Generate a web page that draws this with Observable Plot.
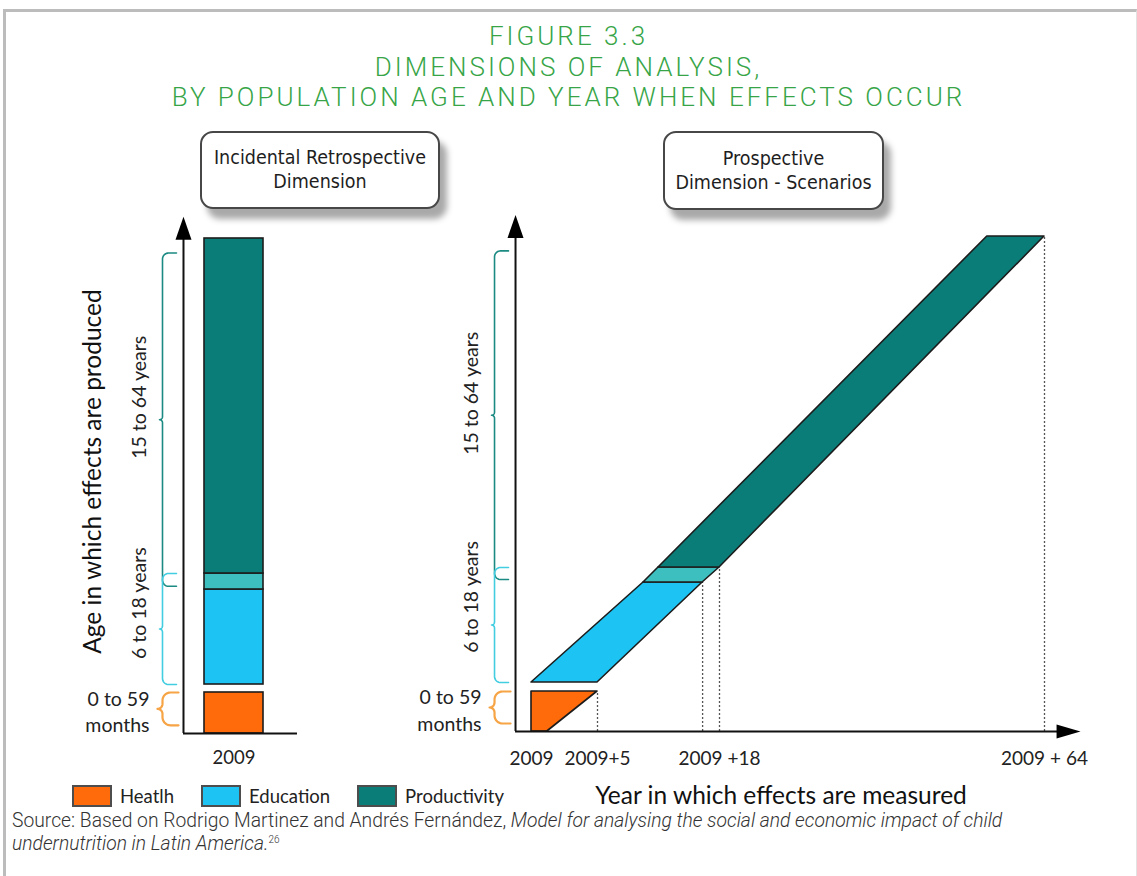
<!DOCTYPE html>
<html>
<head>
<meta charset="utf-8">
<script src="https://cdn.jsdelivr.net/npm/d3@7"></script>
<script src="https://cdn.jsdelivr.net/npm/@observablehq/plot@0.6"></script>
<style>
  body { margin: 0; background: #fff; }
  #page { position: relative; width: 1137px; height: 876px; overflow: hidden; font-family: Lato, "Open Sans", sans-serif; }
  #frame { position: absolute; left: 3px; top: 9px; right: 0; bottom: -20px; border-top: 3px solid #bcbcbc; border-left: 3px solid #bcbcbc; border-right: 1px solid #e2e2e2; }
  .title { position: absolute; left: 0; width: 1137px; text-align: center; color: #37a547; font-family: Roboto, sans-serif; font-weight: 300; font-size: 26px; letter-spacing: 3px; line-height: 31px; white-space: nowrap; }
  .dimbox { position: absolute; box-sizing: border-box; border: 2px solid #474747; border-radius: 13px; background: #fff; box-shadow: 7px 10px 6px #a9a9a9; display: flex; flex-direction: column; justify-content: center; align-items: center; font-family: "DejaVu Sans Condensed", "DejaVu Sans", sans-serif; font-stretch: condensed; font-size: 19.5px; line-height: 24px; color: #1e1e1e; }
  .chart { position: absolute; top: 100px; }
  #legend { position: absolute; left: 72px; top: 785px; display: flex; align-items: center; font-size: 18.5px; line-height: 22px; color: #222; }
  #legend .sw { width: 40px; height: 22px; box-sizing: border-box; border: 2px solid #4d4d4d; margin-right: 8px; }
  #legend .lab { margin-right: 27px; }
  #source { position: absolute; left: 12px; top: 809px; width: 1115px; font-family: Roboto, sans-serif; font-weight: 300; font-size: 19.3px; line-height: 23px; color: #333; white-space: nowrap; }
  #source sup { font-size: 10px; line-height: 0; }
</style>
</head>
<body>
<div id="page">
  <div id="frame"></div>
  <div class="title" style="top:21px">FIGURE 3.3</div>
  <div class="title" style="top:52px">DIMENSIONS OF ANALYSIS,</div>
  <div class="title" style="top:82px">BY POPULATION AGE AND YEAR WHEN EFFECTS OCCUR</div>
  <div class="dimbox" style="left:200px;top:131px;width:240px;height:78px"><div>Incidental Retrospective</div><div>Dimension</div></div>
  <div class="dimbox" style="left:663px;top:131px;width:221px;height:79px"><div>Prospective</div><div>Dimension - Scenarios</div></div>
  <div id="left" class="chart" style="left:0px"></div>
  <div id="right" class="chart" style="left:440px"></div>
  <div id="legend"></div>
  <div id="source">Source: Based on Rodrigo Martinez and Andrés Fernández, <i>Model for analysing the social and economic impact of child<br>undernutrition in Latin America.</i><sup>26</sup></div>
</div>
<script>
// ---------------- data ----------------
const bands = ["Heatlh", "Education", "Education and Productivity", "Productivity"];
const bandColors = ["#ff6a0a", "#1dc3f2", "#3dbfbf", "#0b7d79"];
const legendItems = ["Heatlh", "Education", "Productivity"];

// Left panel: ages covered by each stage in the 2009 cross-section
const barBand = ["Heatlh", "Education", "Education and Productivity", "Productivity"];
const barAgeFrom = [0, 6, 15, 18];
const barAgeTo = [5, 15, 18, 64];
const barYear = 0; // 2009

// Right panel: the cohort followed over time (years after 2009 at which each band edge is reached)
const cohortBand = ["Heatlh", "Heatlh", "Education", "Education",
  "Education and Productivity", "Education and Productivity", "Productivity", "Productivity"];
const cohortAge = [0, 5, 6, 15, 15, 18, 18, 64];
const cohortYearFrom = [0, 0, 0, 9.9, 9.9, 11.5, 11.5, 55.9];
const cohortYearTo = [1.2, 5, 5, 16.2, 16.2, 18, 18, 64];

// dotted guides: year after 2009 and the age reached
const guideYear = [5, 16.2, 18, 64];
const guideAge = [5, 15, 18, 64];

// x tick labels (right panel)
const tickYear = [0, 5, 18, 64];
const tickLabel = ["2009", "2009+5", "2009 +18", "2009 + 64"];

// age groups shown with braces
const groupLabel = ["15 to 64 years", "6 to 18 years", "0 to 59\nmonths"];
const groupFrom = [15.6, 6, 1];
const groupTo = [62, 18, 5];
const groupLabelAge = [42.2, 13.7, 2.8];
const groupColor = ["#1b8a82", "#43cde0", "#f6a445"];

// ---------------- schematic (non-proportional) axes ----------------
const ageDomain = [0, 5, 6, 15, 18, 64];
const leftAgeUnits = [0, 41, 49, 144, 160, 495];
const rightAgeUnits = [0, 40, 49, 149, 164, 495];
const yearDomain = [0, 5, 18, 64];
const yearUnits = [0, 66, 188, 513];
const axisTopAge = 67;

const leftAge = d3.scaleLinear().domain(ageDomain).range(leftAgeUnits);
const rightAge = d3.scaleLinear().domain(ageDomain).range(rightAgeUnits);
const yearUnit = d3.scaleLinear().domain(yearDomain).range(yearUnits);

const leftYScale = {transform: leftAge, domain: [0, 495], range: [633, 138], axis: null};
const rightYScale = {transform: rightAge, domain: [0, 495], range: [631, 136], axis: null};
const leftXScale = {domain: [-1, 1], range: [174.5, 292.5], axis: null};
const rightXScale = {transform: yearUnit, domain: [0, 513], range: [91, 604], axis: null};

const leftAxisX = -0.856, leftAxisEnd = 1.076;
const rightAxisX = -1.21, rightAxisEnd = 69.1;

const crossSection = barBand.map((b, i) => ({band: b, year: barYear, age0: barAgeFrom[i], age1: barAgeTo[i]}));
const cohort = cohortBand.map((b, i) => ({band: b, age: cohortAge[i], from: cohortYearFrom[i], to: cohortYearTo[i]}));
const guides = guideYear.map((y, i) => ({year: y, age: guideAge[i]}));
const ticks = tickYear.map((y, i) => ({year: y, label: tickLabel[i]}));

const arrowUp = {draw(ctx) { ctx.moveTo(0, 0); ctx.lineTo(-8, 23); ctx.lineTo(8, 23); ctx.closePath(); }};
const arrowRight = {draw(ctx) { ctx.moveTo(0, 0); ctx.lineTo(-24, -7); ctx.lineTo(-24, 7); ctx.closePath(); }};

// pixel mapping helpers equal to the Plot scales above (used to shape the braces)
function toPx(opts) {
  const lin = d3.scaleLinear().domain(opts.domain).range(opts.range);
  const t = opts.transform || (v => v);
  const inv = opts.transform ? opts.transform.invert : (v => v);
  const f = v => lin(t(v));
  f.invert = p => inv(lin.invert(p));
  return f;
}

function brace(xs, ys, axisX, a0, a1, hook, r, tip) {
  const s = xs(axisX) - 21;
  const yT = ys(a1), yB = ys(a0), ym = (yT + yB) / 2;
  const pts = [[s + hook, yT]];
  const arc = (cx, cy, rad, t0, t1) => {
    for (let i = 0; i <= 10; i++) { const t = t0 + (t1 - t0) * i / 10; pts.push([cx + rad * Math.cos(t), cy + rad * Math.sin(t)]); }
  };
  arc(s + r, yT + r, r, -Math.PI / 2, -Math.PI);
  arc(s - tip, ym - tip, tip, 0, Math.PI / 2);
  arc(s - tip, ym + tip, tip, -Math.PI / 2, 0);
  arc(s + r, yB - r, r, Math.PI, Math.PI / 2);
  pts.push([s + hook, yB]);
  return pts.map(([px, py]) => ({x: xs.invert(px), y: ys.invert(py)}));
}

function braceMarks(xOpts, yOpts, axisX) {
  const xs = toPx(xOpts), ys = toPx(yOpts);
  return groupLabel.map((g, i) => {
    const big = i === 2;
    return Plot.line(brace(xs, ys, axisX, groupFrom[i], groupTo[i], big ? 16 : 14, big ? 8 : 6, big ? 5 : 3),
      {x: "x", y: "y", stroke: groupColor[i], strokeWidth: big ? 2.2 : 1.6});
  });
}

function groupTextMarks(axisX) {
  const rot = [0, 1].map(i => Plot.text([{x: axisX, y: groupLabelAge[i], t: groupLabel[i]}],
    {x: "x", y: "y", text: "t", rotate: -90, dx: -44, fontSize: 19.5, fill: "#222"}));
  const months = Plot.text([{x: axisX, y: groupLabelAge[2], t: groupLabel[2]}],
    {x: "x", y: "y", text: "t", textAnchor: "end", dx: -34, lineHeight: 1.35, fontSize: 19.5, fill: "#222"});
  return [...rot, months];
}

const colorScale = {domain: bands, range: bandColors, legend: false};
const chartStyle = {fontFamily: "Lato, 'Open Sans', sans-serif", background: "transparent", overflow: "visible"};

// ---------------- left panel ----------------
const left = Plot.plot({
  width: 440, height: 720, margin: 0, style: chartStyle,
  x: leftXScale, y: leftYScale, color: colorScale,
  marks: [
    Plot.rect(crossSection, {x1: d => d.year - 0.5, x2: d => d.year + 0.5, y1: "age0", y2: "age1", fill: "band", stroke: "#1c1c1c", strokeWidth: 1.6}),
    Plot.ruleX([leftAxisX], {y1: 0, y2: axisTopAge - 1, stroke: "#111", strokeWidth: 2}),
    Plot.ruleY([0], {x1: leftAxisX, x2: leftAxisEnd, stroke: "#111", strokeWidth: 2}),
    Plot.dot([{x: leftAxisX, y: axisTopAge}], {x: "x", y: "y", symbol: arrowUp, fill: "#000", stroke: "none"}),
    ...braceMarks(leftXScale, leftYScale, leftAxisX),
    ...groupTextMarks(leftAxisX),
    Plot.text([{x: barYear, t: "2009"}], {x: "x", y: 0, text: "t", dy: 25, fontSize: 18.5, fill: "#222"}),
    Plot.text([{x: leftAxisX, y: 32, t: "Age in which effects are produced"}], {x: "x", y: "y", text: "t", rotate: -90, dx: -90, fontSize: 24.5, fill: "#111"})
  ]
});
document.getElementById("left").appendChild(left);

// ---------------- right panel ----------------
const right = Plot.plot({
  width: 697, height: 720, margin: 0, style: chartStyle,
  x: rightXScale, y: rightYScale, color: colorScale,
  marks: [
    Plot.ruleX(guides, {x: "year", y1: 0, y2: "age", stroke: "#555", strokeWidth: 1.3, strokeDasharray: "2,2"}),
    Plot.areaX(cohort, {y: "age", x1: "from", x2: "to", z: "band", fill: "band", stroke: "#1c1c1c", strokeWidth: 1.6}),
    Plot.ruleX([rightAxisX], {y1: 0, y2: axisTopAge - 1, stroke: "#111", strokeWidth: 2}),
    Plot.ruleY([0], {x1: rightAxisX, x2: rightAxisEnd - 1, stroke: "#111", strokeWidth: 2}),
    Plot.dot([{x: rightAxisX, y: axisTopAge}], {x: "x", y: "y", symbol: arrowUp, fill: "#000", stroke: "none"}),
    Plot.dot([{x: rightAxisEnd, y: 0}], {x: "x", y: "y", symbol: arrowRight, fill: "#000", stroke: "none"}),
    ...braceMarks(rightXScale, rightYScale, rightAxisX),
    ...groupTextMarks(rightAxisX),
    Plot.text(ticks, {x: "year", y: 0, text: "label", dy: 27, fontSize: 19, fill: "#222"}),
    Plot.text(["Year in which effects are measured"], {y: 0, frameAnchor: "middle", dx: -8, dy: 65, fontSize: 24.5, fill: "#111"})
  ]
});
document.getElementById("right").appendChild(right);

// ---------------- legend ----------------
const legend = document.getElementById("legend");
legendItems.forEach(name => {
  const sw = document.createElement("div");
  sw.className = "sw";
  sw.style.background = bandColors[bands.indexOf(name)];
  const lab = document.createElement("div");
  lab.className = "lab";
  lab.textContent = name;
  legend.appendChild(sw);
  legend.appendChild(lab);
});
</script>
</body>
</html>
